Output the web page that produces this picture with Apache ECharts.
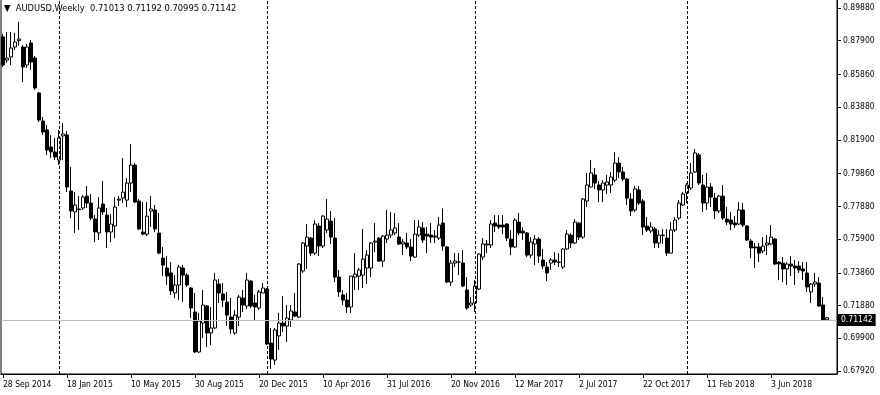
<!DOCTYPE html>
<html>
<head>
<meta charset="utf-8">
<script src="https://cdn.jsdelivr.net/npm/echarts@6/dist/echarts.min.js"></script>
<style>html,body{margin:0;padding:0;background:#fff;}#c{width:880px;height:395px;}</style>
</head>
<body>
<div id="c"></div>
<script>
// ---- data (weekly AUDUSD, first bar = week of 28 Sep 2014) ----
const startDate = '2014-09-28';
const slotCount = 209; // 207 bars + right shift of the chart
const opens = [
0.8813,0.8673,0.8692,0.8752,0.8790,0.8752,0.8643,0.8776,0.8685,0.8474,
0.8304,0.8250,0.8147,0.8117,0.8068,0.8214,0.8220,0.7881,0.7754,0.7772,
0.7778,0.7850,0.7808,0.7711,0.7627,0.7802,0.7735,0.7633,0.7669,0.7826,
0.7838,0.7826,0.7929,0.8038,0.7820,0.7632,0.7620,0.7759,0.7766,0.7626,
0.7475,0.7415,0.7385,0.7264,0.7312,0.7415,0.7372,0.7294,0.7149,0.6907,
0.7082,0.7185,0.7022,0.7052,0.7318,0.7258,0.7209,0.7118,0.7022,0.7118,
0.7233,0.7185,0.7336,0.7203,0.7173,0.7264,0.7288,0.6961,0.6858,0.7004,
0.7082,0.7064,0.7100,0.7149,0.7118,0.7397,0.7548,0.7596,0.7505,0.7669,
0.7548,0.7645,0.7699,0.7596,0.7360,0.7252,0.7221,0.7179,0.7360,0.7366,
0.7372,0.7415,0.7415,0.7572,0.7596,0.7457,0.7590,0.7614,0.7627,0.7602,
0.7560,0.7566,0.7542,0.7481,0.7614,0.7657,0.7620,0.7614,0.7608,0.7596,
0.7687,0.7542,0.7330,0.7445,0.7451,0.7445,0.7282,0.7191,0.7203,0.7288,
0.7481,0.7554,0.7554,0.7687,0.7675,0.7675,0.7681,0.7590,0.7542,0.7693,
0.7638,0.7627,0.7493,0.7560,0.7590,0.7463,0.7421,0.7445,0.7463,0.7451,
0.7421,0.7530,0.7614,0.7566,0.7687,0.7602,0.7820,0.7905,0.7978,0.7917,
0.7887,0.7917,0.7917,0.7947,0.8050,0.7996,0.7953,0.7832,0.7766,0.7887,
0.7820,0.7669,0.7639,0.7651,0.7566,0.7614,0.7596,0.7505,0.7645,0.7717,
0.7796,0.7869,0.7899,0.7996,0.8099,0.7917,0.7808,0.7905,0.7838,0.7760,
0.7850,0.7711,0.7705,0.7687,0.7681,0.7766,0.7669,0.7578,0.7542,0.7542,
0.7518,0.7554,0.7560,0.7590,0.7451,0.7445,0.7409,0.7439,0.7427,0.7427,
0.7409,0.7385,0.7270,0.7318,0.7324,0.7191,0.71013];
const highs = [
0.8831,0.8843,0.8843,0.8837,0.8905,0.8764,0.8770,0.8794,0.8698,0.8480,
0.8329,0.8280,0.8220,0.8202,0.8250,0.8292,0.8244,0.8026,0.7875,0.7850,
0.7856,0.7911,0.7863,0.7735,0.7844,0.7941,0.7778,0.7741,0.7844,0.7850,
0.8080,0.7959,0.8165,0.8050,0.7832,0.7814,0.7814,0.7850,0.7796,0.7747,
0.7542,0.7487,0.7451,0.7372,0.7433,0.7433,0.7385,0.7300,0.7264,0.7143,
0.7282,0.7191,0.7179,0.7385,0.7348,0.7324,0.7270,0.7233,0.7161,0.7252,
0.7282,0.7385,0.7342,0.7252,0.7282,0.7324,0.7294,0.7052,0.7052,0.7143,
0.7245,0.7191,0.7191,0.7264,0.7445,0.7572,0.7681,0.7602,0.7705,0.7687,
0.7735,0.7832,0.7760,0.7717,0.7403,0.7282,0.7264,0.7366,0.7505,0.7415,
0.7651,0.7524,0.7572,0.7687,0.7602,0.7614,0.7766,0.7754,0.7747,0.7687,
0.7590,0.7626,0.7590,0.7705,0.7705,0.7693,0.7663,0.7687,0.7645,0.7723,
0.7775,0.7548,0.7463,0.7505,0.7505,0.7524,0.7360,0.7239,0.7342,0.7505,
0.7596,0.7584,0.7705,0.7735,0.7735,0.7735,0.7687,0.7645,0.7717,0.7747,
0.7662,0.7633,0.7602,0.7614,0.7602,0.7530,0.7451,0.7475,0.7511,0.7505,
0.7536,0.7645,0.7626,0.7711,0.7693,0.7838,0.7989,0.8068,0.8020,0.7941,
0.7947,0.7978,0.7996,0.8115,0.8086,0.8026,0.7959,0.7868,0.7911,0.7911,
0.7832,0.7723,0.7693,0.7663,0.7645,0.7650,0.7650,0.7693,0.7723,0.7826,
0.7875,0.7929,0.8050,0.8135,0.8111,0.7978,0.7990,0.7929,0.7868,0.7856,
0.7917,0.7784,0.7753,0.7729,0.7814,0.7808,0.7675,0.7590,0.7566,0.7566,
0.7602,0.7614,0.7675,0.7596,0.7457,0.7481,0.7451,0.7487,0.7463,0.7457,
0.7451,0.7451,0.7324,0.7385,0.7360,0.7239,0.71192];
const lows = [
0.8631,0.8655,0.8643,0.8734,0.8760,0.8540,0.8625,0.8613,0.8492,0.8298,
0.8220,0.8099,0.8081,0.8068,0.8038,0.8068,0.7875,0.7717,0.7627,0.7645,
0.7766,0.7778,0.7705,0.7572,0.7584,0.7735,0.7536,0.7572,0.7596,0.7790,
0.7808,0.7784,0.7875,0.7808,0.7645,0.7614,0.7608,0.7663,0.7632,0.7499,
0.7366,0.7312,0.7252,0.7233,0.7221,0.7209,0.7300,0.7112,0.6901,0.6901,
0.6992,0.6937,0.6949,0.7046,0.7203,0.7179,0.7064,0.7016,0.7010,0.7064,
0.7149,0.7167,0.7173,0.7100,0.7161,0.7264,0.6949,0.6804,0.6828,0.6919,
0.7028,0.6968,0.7058,0.7118,0.7112,0.7385,0.7409,0.7487,0.7493,0.7487,
0.7536,0.7627,0.7560,0.7330,0.7240,0.7191,0.7143,0.7143,0.7282,0.7282,
0.7294,0.7318,0.7360,0.7511,0.7451,0.7421,0.7566,0.7596,0.7614,0.7554,
0.7493,0.7530,0.7457,0.7475,0.7602,0.7566,0.7505,0.7566,0.7566,0.7584,
0.7520,0.7324,0.7306,0.7421,0.7372,0.7300,0.7161,0.7179,0.7149,0.7282,
0.7463,0.7505,0.7536,0.7633,0.7651,0.7620,0.7578,0.7493,0.7536,0.7614,
0.7584,0.7481,0.7475,0.7433,0.7445,0.7409,0.7336,0.7403,0.7433,0.7421,
0.7409,0.7524,0.7536,0.7560,0.7584,0.7590,0.7784,0.7905,0.7893,0.7814,
0.7814,0.7863,0.7869,0.7935,0.7959,0.7941,0.7796,0.7729,0.7754,0.7796,
0.7614,0.7633,0.7627,0.7536,0.7536,0.7560,0.7487,0.7505,0.7632,0.7705,
0.7790,0.7808,0.7887,0.7990,0.7917,0.7754,0.7766,0.7784,0.7711,0.7747,
0.7705,0.7675,0.7645,0.7657,0.7675,0.7663,0.7578,0.7475,0.7415,0.7451,
0.7505,0.7493,0.7554,0.7433,0.7342,0.7330,0.7312,0.7366,0.7312,0.7385,
0.7342,0.7270,0.7203,0.7300,0.7179,0.7094,0.70995];
const closes = [
0.8643,0.8685,0.8746,0.8782,0.8800,0.8631,0.8752,0.8661,0.8504,0.8310,
0.8238,0.8129,0.8117,0.8087,0.8202,0.8226,0.7905,0.7760,0.7796,0.7768,
0.7844,0.7808,0.7717,0.7633,0.7778,0.7754,0.7633,0.7681,0.7784,0.7832,
0.7874,0.7929,0.8038,0.7814,0.7651,0.7620,0.7729,0.7772,0.7651,0.7505,
0.7433,0.7366,0.7276,0.7312,0.7421,0.7372,0.7312,0.7173,0.6907,0.7094,
0.7191,0.7022,0.7052,0.7342,0.7264,0.7221,0.7130,0.7046,0.7130,0.7239,
0.7191,0.7342,0.7185,0.7179,0.7270,0.7294,0.6955,0.6864,0.7040,0.7082,
0.7064,0.7112,0.7155,0.7124,0.7439,0.7566,0.7602,0.7505,0.7681,0.7548,
0.7729,0.7711,0.7602,0.7360,0.7270,0.7221,0.7179,0.7366,0.7378,0.7403,
0.7469,0.7493,0.7566,0.7578,0.7457,0.7608,0.7614,0.7645,0.7657,0.7560,
0.7572,0.7542,0.7487,0.7620,0.7663,0.7584,0.7608,0.7602,0.7602,0.7675,
0.7548,0.7330,0.7445,0.7457,0.7451,0.7306,0.7173,0.7203,0.7306,0.7499,
0.7560,0.7560,0.7681,0.7669,0.7663,0.7663,0.7596,0.7542,0.7705,0.7627,
0.7627,0.7493,0.7572,0.7590,0.7487,0.7427,0.7385,0.7463,0.7451,0.7449,
0.7530,0.7620,0.7566,0.7693,0.7602,0.7832,0.7917,0.7990,0.7929,0.7887,
0.7929,0.7935,0.7965,0.8050,0.7996,0.7953,0.7838,0.7760,0.7893,0.7808,
0.7663,0.7645,0.7663,0.7566,0.7614,0.7612,0.7505,0.7645,0.7705,0.7808,
0.7863,0.7917,0.7990,0.8111,0.7929,0.7808,0.7905,0.7844,0.7760,0.7850,
0.7717,0.7693,0.7681,0.7675,0.7766,0.7675,0.7584,0.7536,0.7536,0.7505,
0.7548,0.7566,0.7602,0.7439,0.7439,0.7409,0.7439,0.7427,0.7415,0.7403,
0.7397,0.7300,0.7318,0.7330,0.7185,0.7100,0.71142];
const priceTicks = [0.89880,0.87900,0.85860,0.83880,0.81900,0.79860,0.77880,0.75900,0.73860,0.71880,0.69900,0.67920];
const yearSeparators = ['4 Jan 2015','3 Jan 2016','1 Jan 2017','7 Jan 2018'];
const symbolName = 'AUDUSD,Weekly';

// ---- build ----
const months = ['Jan','Feb','Mar','Apr','May','Jun','Jul','Aug','Sep','Oct','Nov','Dec'];
const categories = [];
const t0 = Date.parse(startDate + 'T00:00:00Z');
for (let i = 0; i < slotCount; i++) {
  const d = new Date(t0 + i * 7 * 86400000);
  categories.push(d.getUTCDate() + ' ' + months[d.getUTCMonth()] + ' ' + d.getUTCFullYear());
}
const candles = opens.map((o, i) => [o, closes[i], lows[i], highs[i]]);
const last = opens.length - 1;
const f5 = v => v.toFixed(5);
const showDate = i => i % 16 === 0 && i <= last;

const FONT = '"DejaVu Sans Condensed","DejaVu Sans",sans-serif';
const chart = echarts.init(document.getElementById('c'), null, {renderer: 'canvas', width: 880, height: 395});
chart.setOption({
  animation: false,
  backgroundColor: '#fff',
  title: {
    text: '\u25BC  ' + symbolName + '  ' + [opens[last], highs[last], lows[last], closes[last]].map(f5).join(' '),
    left: 4, top: 4, padding: 0,
    textStyle: {fontSize: 9.3, fontWeight: 'normal', color: '#000', fontFamily: FONT}
  },
  grid: {left: 1, top: -2, width: 836, height: 376, show: true, borderColor: '#000', borderWidth: 1,
         backgroundColor: 'transparent', containLabel: false, outerBoundsMode: 'none'},
  xAxis: {
    type: 'category', data: categories, boundaryGap: true,
    axisLine: {show: true, lineStyle: {color: '#000', width: 1}},
    axisTick: {show: true, interval: showDate, alignWithLabel: true, length: 4, lineStyle: {color: '#000'}},
    axisLabel: {interval: showDate, align: 'left', color: '#000', fontSize: 8.5, fontFamily: FONT, margin: 6},
    splitLine: {show: false}
  },
  yAxis: {
    type: 'value', position: 'right',
    min: 0.8988 - 366 * 0.000605, max: 0.8988 + 10 * 0.000605,
    axisLine: {show: true, lineStyle: {color: '#000'}},
    axisTick: {show: true, length: 4, lineStyle: {color: '#000'}, customValues: priceTicks},
    axisLabel: {color: '#000', fontSize: 8.5, fontFamily: FONT, margin: 6, customValues: priceTicks, formatter: v => f5(v)},
    splitLine: {show: false}
  },
  series: [{
    type: 'candlestick',
    data: candles,
    barWidth: 3,
    itemStyle: {color: '#fff', color0: '#000', borderColor: '#000', borderColor0: '#000', borderColorDoji: '#000', borderWidth: 1},
    markLine: {
      silent: true, symbol: ['none', 'none'], animation: false,
      data: [
        {yAxis: closes[last], lineStyle: {color: '#c0c0c0', type: 'solid', width: 1},
         label: {show: true, position: 'end', distance: 1, formatter: f5(closes[last]), color: '#fff', backgroundColor: '#000',
                 padding: [2, 3, 1, 3], fontSize: 8.5, fontFamily: FONT}}
      ].concat(yearSeparators.map(s => ({xAxis: s, lineStyle: {color: '#000', type: [3, 2], width: 1}, label: {show: false}})))
    }
  }]
});
</script>
</body>
</html>
